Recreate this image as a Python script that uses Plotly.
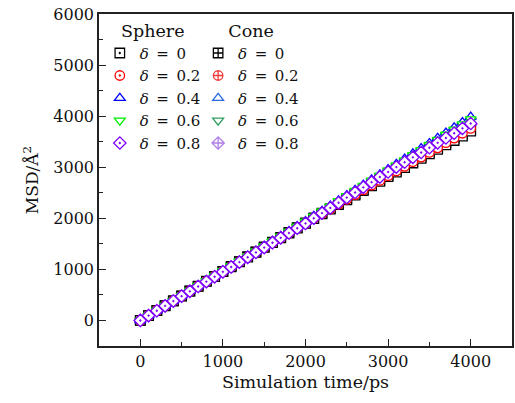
import plotly.graph_objects as go

time_ps = [0, 100, 200, 300, 400, 500, 600, 700, 800, 900, 1000, 1100, 1200, 1300, 1400,
           1500, 1600, 1700, 1800, 1900, 2000, 2100, 2200, 2300, 2400, 2500, 2600, 2700,
           2800, 2900, 3000, 3100, 3200, 3300, 3400, 3500, 3600, 3700, 3800, 3900, 4000]

sphere_d0 = [0, 96, 192, 287, 383, 478, 574, 669, 765, 860, 955, 1050, 1146, 1240, 1335,
             1430, 1524, 1618, 1712, 1806, 1899, 1992, 2085, 2178, 2270, 2362, 2453, 2544,
             2635, 2725, 2815, 2905, 2994, 3083, 3172, 3260, 3348, 3436, 3523, 3610, 3705]
sphere_d02 = [0, 96, 192, 288, 384, 479, 575, 670, 766, 861, 957, 1052, 1147, 1242, 1337,
              1432, 1527, 1621, 1716, 1810, 1904, 1998, 2092, 2186, 2279, 2372, 2465, 2558,
              2650, 2742, 2834, 2926, 3017, 3108, 3199, 3290, 3380, 3480, 3570, 3665, 3760]
sphere_d04 = [0, 97, 194, 291, 388, 485, 582, 679, 776, 873, 970, 1067, 1164, 1261, 1358,
              1455, 1552, 1649, 1746, 1843, 1940, 2042, 2144, 2246, 2348, 2450, 2552, 2654,
              2756, 2858, 2960, 3062, 3164, 3266, 3368, 3470, 3572, 3674, 3776, 3878, 3985]
sphere_d06 = [0, 97, 194, 290, 387, 484, 581, 677, 774, 871, 968, 1065, 1161, 1258, 1354,
              1451, 1548, 1644, 1741, 1838, 1935, 2036, 2136, 2237, 2337, 2438, 2538, 2639,
              2739, 2838, 2938, 3038, 3138, 3238, 3338, 3438, 3538, 3638, 3739, 3840, 3940]
sphere_d08 = [0, 95, 190, 285, 380, 475, 570, 665, 760, 855, 952, 1047, 1142, 1237, 1332,
              1427, 1522, 1617, 1712, 1806, 1900, 2001, 2102, 2203, 2304, 2405, 2506, 2607,
              2707, 2808, 2908, 3003, 3098, 3193, 3288, 3382, 3477, 3572, 3666, 3761, 3856]

cone_d0 = [0, 96, 193, 289, 385, 481, 577, 673, 769, 865, 961, 1057, 1152, 1248, 1343,
           1438, 1533, 1628, 1723, 1818, 1912, 2006, 2100, 2193, 2286, 2379, 2472, 2565,
           2657, 2749, 2841, 2932, 3023, 3114, 3205, 3295, 3385, 3475, 3565, 3648, 3730]
cone_d02 = [0, 96, 192, 288, 384, 480, 576, 672, 768, 864, 959, 1055, 1150, 1246, 1341,
            1436, 1531, 1626, 1721, 1816, 1910, 2005, 2099, 2193, 2287, 2381, 2475, 2568,
            2661, 2754, 2847, 2940, 3033, 3126, 3218, 3310, 3402, 3494, 3600, 3695, 3790]
cone_d04 = [0, 96, 193, 289, 386, 482, 579, 675, 772, 868, 964, 1061, 1157, 1253, 1349,
            1445, 1541, 1637, 1733, 1829, 1924, 2022, 2120, 2218, 2315, 2412, 2509, 2606,
            2702, 2798, 2894, 2993, 3092, 3190, 3288, 3386, 3484, 3582, 3680, 3780, 3880]
cone_d06 = [0, 97, 194, 290, 387, 483, 580, 676, 773, 869, 966, 1062, 1159, 1255, 1351,
            1448, 1544, 1640, 1736, 1832, 1928, 2027, 2125, 2224, 2322, 2420, 2518, 2616,
            2714, 2812, 2910, 3010, 3110, 3210, 3310, 3410, 3510, 3610, 3710, 3810, 3910]
cone_d08 = [0, 95, 191, 286, 382, 477, 573, 668, 764, 859, 954, 1050, 1145, 1240, 1335,
            1430, 1525, 1620, 1715, 1810, 1905, 2002, 2099, 2196, 2293, 2390, 2487, 2584,
            2680, 2776, 2872, 2968, 3064, 3160, 3256, 3352, 3448, 3543, 3638, 3734, 3830]

delta_labels = ["0", "0.2", "0.4", "0.6", "0.8"]
sphere_series = [sphere_d0, sphere_d02, sphere_d04, sphere_d06, sphere_d08]
cone_series = [cone_d0, cone_d02, cone_d04, cone_d06, cone_d08]
sphere_colors = ["#000000", "#ff0000", "#0000ff", "#00ee00", "#8000ff"]
cone_colors = ["#000000", "#f03a3a", "#2a6ae0", "#2e9e5e", "#b07ee8"]
sphere_symbols = ["square-dot", "circle-dot", "triangle-up", "triangle-down", "diamond-dot"]
cone_symbols = ["square-cross", "circle-cross", "triangle-up", "triangle-down", "diamond-cross"]

FONT = "DejaVu Serif"
SP = "\u2002"
fig = go.Figure()

for lab, ys, col, sym in zip(delta_labels, cone_series, cone_colors, cone_symbols):
    fig.add_trace(go.Scatter(
        x=time_ps, y=ys, mode="markers", name=f"<i>δ</i>{SP}={SP}{lab}", legend="legend2",
        marker=dict(symbol=sym, size=9.5, color="white", line=dict(color=col, width=1.3)),
    ))

for lab, ys, col, sym in zip(delta_labels, sphere_series, sphere_colors, sphere_symbols):
    fig.add_trace(go.Scatter(
        x=time_ps, y=ys, mode="markers", name=f"<i>δ</i>{SP}={SP}{lab}", legend="legend",
        marker=dict(symbol=sym, size=9.5, color="white", line=dict(color=col, width=1.3)),
    ))

axis_common = dict(
    showline=True, linecolor="#222", linewidth=1.5, mirror=True,
    ticks="inside", ticklen=7, tickwidth=1.3, tickcolor="#222",
    showgrid=False, zeroline=False,
    tickfont=dict(family=FONT, size=16, color="#111"),
)
minor_common = dict(ticks="inside", ticklen=4, tickwidth=1.2, tickcolor="#222",
                    dtick=500, tick0=0, showgrid=False)

fig.update_layout(
    width=515, height=403,
    margin=dict(l=99, r=1, t=14, b=57),
    paper_bgcolor="white", plot_bgcolor="white",
    font=dict(family=FONT, size=16, color="#111"),
    xaxis=dict(range=[-500, 4500], tickvals=[0, 1000, 2000, 3000, 4000],
               minor=minor_common,
               title=dict(text="Simulation time/ps", font=dict(family=FONT, size=17.5), standoff=6),
               **axis_common),
    yaxis=dict(range=[-500, 6000], tickvals=[0, 1000, 2000, 3000, 4000, 5000, 6000],
               minor=minor_common,
               title=dict(text="MSD/Å<sup>2</sup>", font=dict(family=FONT, size=17), standoff=10),
               **axis_common),
    legend=dict(x=0.002, y=1.0, xanchor="left", yanchor="top", bgcolor="rgba(0,0,0,0)",
                title=dict(text="Sphere", side="top center", font=dict(family=FONT, size=17.5)),
                font=dict(family=FONT, size=15), itemwidth=30, tracegroupgap=0),
    legend2=dict(x=0.24, y=1.0, xanchor="left", yanchor="top", bgcolor="rgba(0,0,0,0)",
                 title=dict(text="Cone", side="top center", font=dict(family=FONT, size=17.5)),
                 font=dict(family=FONT, size=15), itemwidth=30, tracegroupgap=0),
)

fig.write_html("out.html")
